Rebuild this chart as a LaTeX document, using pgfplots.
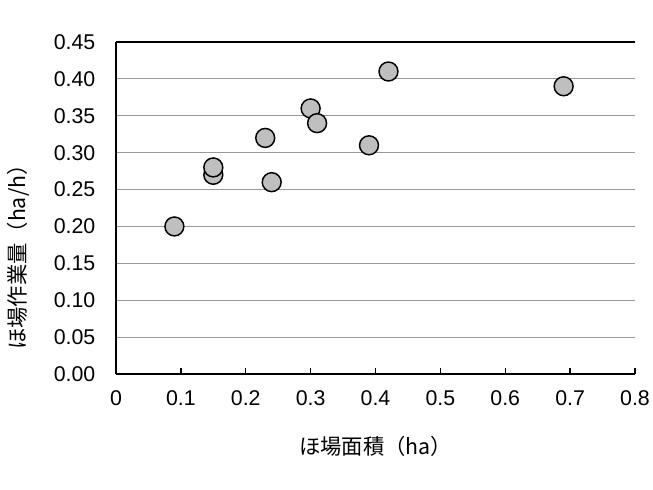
\documentclass[border=0pt]{standalone}
\usepackage{pgfplots}
\pgfplotsset{compat=1.18}
\usepackage{fontspec}
\setmainfont{Liberation Sans}
\newfontfamily\jp{Noto Sans CJK JP}
\begin{document}
\begin{tikzpicture}
\path[use as bounding box] (-87pt,-86.25pt) rectangle (402.75pt,280.5pt);
\begin{axis}[
  at={(0,0)}, anchor=south west,
  scale only axis,
  width=389.25pt, height=249pt,
  xmin=0, xmax=0.8, ymin=0, ymax=0.45,
  axis x line*=bottom, axis y line*=left,
  axis line style={black, line width=1.1pt},
  xtick={0,0.1,...,0.8},
  ytick={0,0.05,...,0.45},
  xticklabels={0,0.1,0.2,0.3,0.4,0.5,0.6,0.7,0.8},
  yticklabel style={/pgf/number format/fixed, /pgf/number format/fixed zerofill, /pgf/number format/precision=2, xshift=-12pt},
  /pgf/number format/assume math mode=true,
  tick label style={font=\fontsize{16}{18}\selectfont},
  x tick style={black, line width=1.1pt},
  major tick length=4.5pt,
  xtick pos=bottom, tick align=inside,
  y tick style={draw=none},
  ymajorgrids,
  grid style={gray!80, line width=0.8pt},
  xticklabel style={yshift=-9pt},
  xlabel={\jp ほ場面積（ha）},
  ylabel={\jp ほ場作業量（ha/h）},
  label style={font=\fontsize{16}{18}\selectfont},
  xlabel style={at={(axis description cs:0.5,0)}, anchor=center, yshift=-54pt},
  ylabel style={at={(axis description cs:-0.189,0.367)}, anchor=center},
  clip=false,
]
\addplot[only marks, mark=*, mark size=7.1pt,
  mark options={fill=black!25, draw=black, line width=1.1pt}]
  coordinates {
  (0.09,0.20) (0.15,0.27) (0.15,0.28) (0.23,0.32) (0.24,0.26)
  (0.30,0.36) (0.31,0.34) (0.39,0.31) (0.42,0.41) (0.69,0.39)
  };
\draw[black, line width=0.8pt] (rel axis cs:0,1) -- (rel axis cs:1,1);
\end{axis}
\end{tikzpicture}
\end{document}
